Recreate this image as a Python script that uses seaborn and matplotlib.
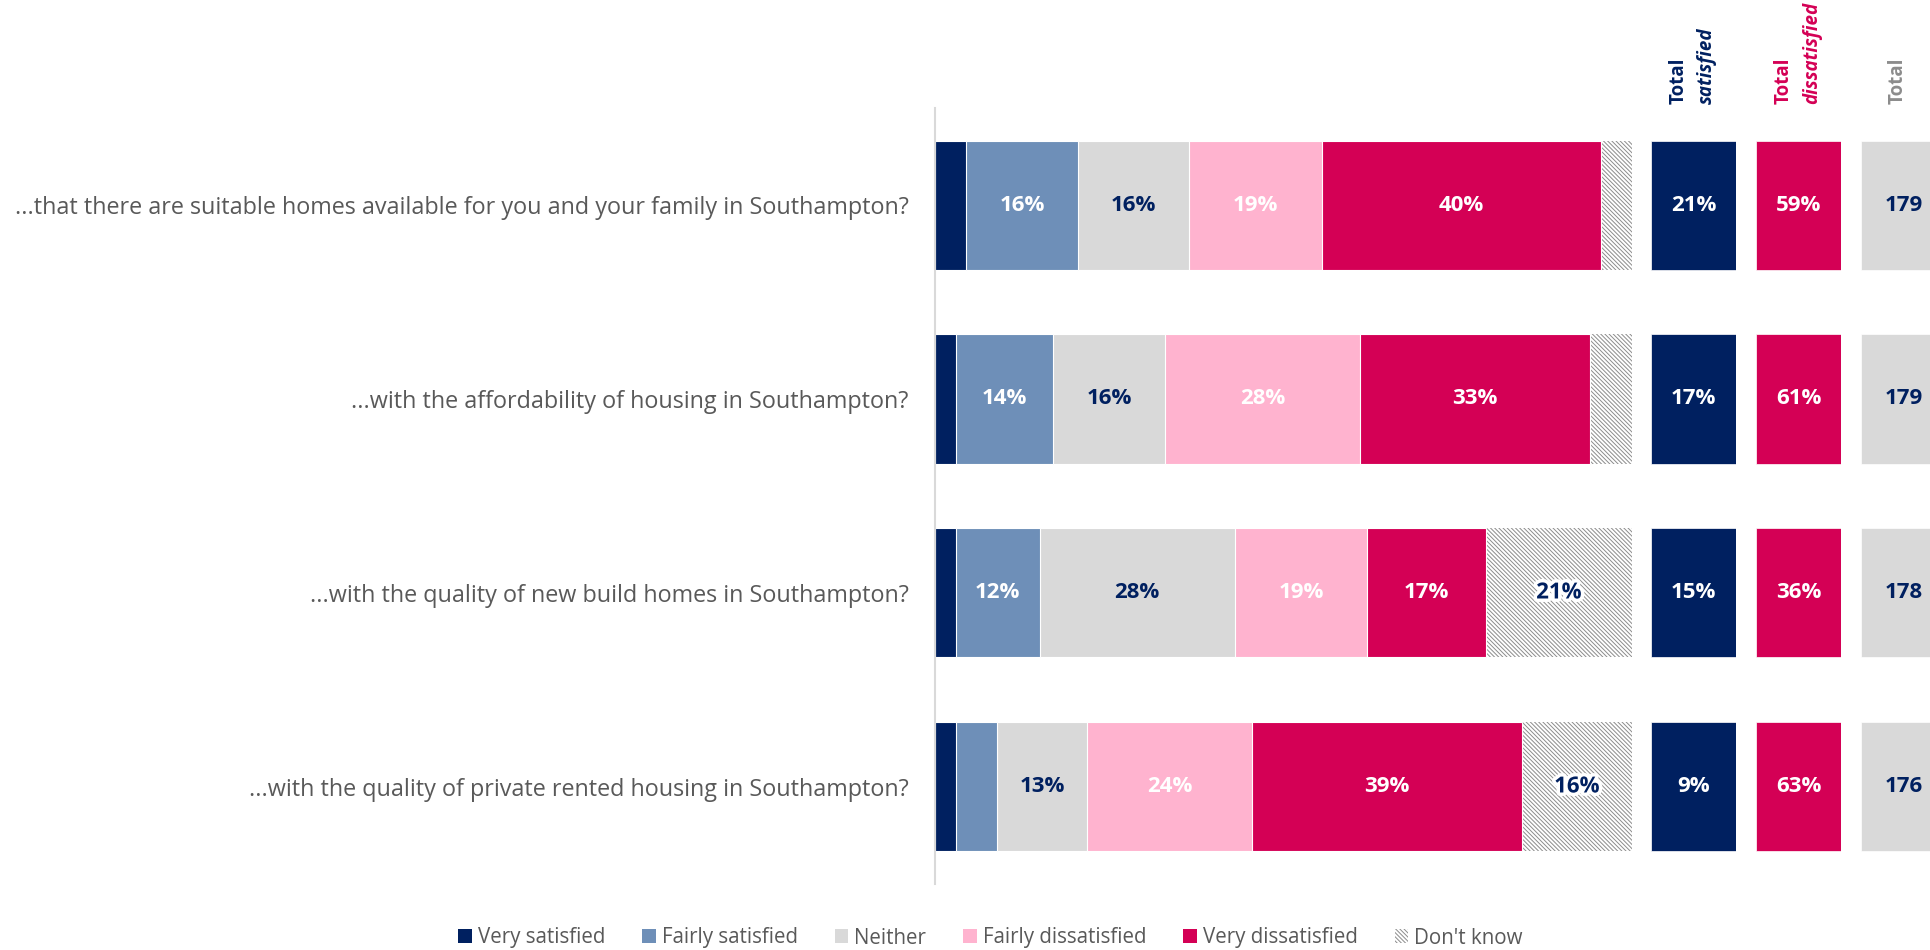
import numpy as np
import pandas as pd
import seaborn as sns
import matplotlib.pyplot as plt
from matplotlib.patches import Patch
import matplotlib.patheffects as pe

# survey questions (bar rows, top to bottom)
questions = [
    "...that there are suitable homes available for you and your family in Southampton?",
    "...with the affordability of housing in Southampton?",
    "...with the quality of new build homes in Southampton?",
    "...with the quality of private rented housing in Southampton?",
]
levels = ["Very satisfied", "Fairly satisfied", "Neither",
          "Fairly dissatisfied", "Very dissatisfied", "Don't know"]

# response shares (%)
very_satisfied = [4.5, 3, 3, 3]
fairly_satisfied = [16, 14, 12, 6]
neither = [16, 16, 28, 13]
fairly_dissatisfied = [19, 28, 19, 24]
very_dissatisfied = [40, 33, 17, 39]
dont_know = [4.5, 6, 21, 16]

# summary columns
total_satisfied = [21, 17, 15, 9]
total_dissatisfied = [59, 61, 36, 63]
total_base = [179, 179, 178, 176]

NAVY = "#002060"
STEEL = "#6E8FB8"
GREY = "#D9D9D9"
PINK = "#FFB3CF"
CRIMSON = "#D40055"
TEXT = "#595959"
colors = [NAVY, STEEL, GREY, PINK, CRIMSON, "white"]
label_colors = ["white", "white", NAVY, "white", "white", NAVY]
HATCH = "\\\\\\\\\\\\\\\\"
HATCH_COLOR = "#8C8C8C"

sns.set_theme(style="white")
plt.rcParams["font.family"] = ["Open Sans", "DejaVu Sans"]
plt.rcParams["hatch.linewidth"] = 0.7

df = pd.DataFrame({
    "question": questions,
    "Very satisfied": very_satisfied,
    "Fairly satisfied": fairly_satisfied,
    "Neither": neither,
    "Fairly dissatisfied": fairly_dissatisfied,
    "Very dissatisfied": very_dissatisfied,
    "Don't know": dont_know,
})
# 100% stacked: normalise each row like the original chart
shares = df[levels].div(df[levels].sum(axis=1), axis=0) * 100
cum = shares.cumsum(axis=1)

fig = plt.figure(figsize=(19.31, 9.5), dpi=100)
bottom, height = 0.0695, 0.8168
ax = fig.add_axes([0.4842, bottom, 0.361, height])
bar_w = 0.665

# layered cumulative bars, widest first
for i in reversed(range(len(levels))):
    lvl = levels[i]
    plot_df = pd.DataFrame({"question": questions, "cum": cum[lvl].values})
    sns.barplot(data=plot_df, x="cum", y="question", orient="h", color=colors[i],
                width=bar_w, errorbar=None, saturation=1, ax=ax)
    for p in ax.containers[-1]:
        p.set_facecolor(colors[i])
        if lvl == "Don't know":
            p.set_hatch(HATCH)
            p.set_edgecolor(HATCH_COLOR)
            p.set_linewidth(0)
        else:
            p.set_edgecolor("white")
            p.set_linewidth(0.8)

# segment labels
for r in range(len(questions)):
    start = 0
    for i, lvl in enumerate(levels):
        v = df.loc[r, lvl]
        w = shares.loc[r, lvl]
        if v >= 10:
            t = ax.text(start + w / 2, r, f"{v:.0f}%", ha="center", va="center",
                        color=label_colors[i], fontsize=16, fontweight="bold")
            if lvl == "Don't know":
                t.set_path_effects([pe.withStroke(linewidth=5, foreground="white")])
        start += w

ax.set_xlim(0, 100)
ax.set_ylim(3.5, -0.5)
ax.set_xlabel("")
ax.set_ylabel("")
ax.set_xticks([])
ax.tick_params(axis="y", length=0, pad=19, labelsize=16.8, labelcolor=TEXT)
for s in ["top", "right", "bottom"]:
    ax.spines[s].set_visible(False)
ax.spines["left"].set_color("#D9D9D9")
ax.spines["left"].set_linewidth(1.5)


def total_column(left, values, fc, tc, fmt, header):
    cax = fig.add_axes([left, bottom, 0.044, height])
    cdf = pd.DataFrame({"question": questions, "v": np.ones(len(values))})
    sns.barplot(data=cdf, x="v", y="question", orient="h", color=fc, width=bar_w,
                errorbar=None, saturation=1, ax=cax)
    for p in cax.containers[-1]:
        p.set_facecolor(fc)
        p.set_edgecolor("white")
        p.set_linewidth(0.5)
    for r, v in enumerate(values):
        cax.text(0.5, r, fmt.format(v), ha="center", va="center", color=tc,
                 fontsize=16, fontweight="bold")
    cax.set_xlim(0, 1)
    cax.set_ylim(3.5, -0.5)
    cax.axis("off")
    for x, txt, style, col in header:
        cax.text(x, 1.005, txt, transform=cax.transAxes, rotation=90, ha="center",
                 va="bottom", fontsize=13.5, fontweight="bold", fontstyle=style, color=col)
    return cax


total_column(0.855, total_satisfied, NAVY, "white", "{}%",
             [(0.33, "Total", "normal", NAVY), (0.66, "satisfied", "italic", NAVY)])
total_column(0.9094, total_dissatisfied, CRIMSON, "white", "{}%",
             [(0.33, "Total", "normal", CRIMSON), (0.66, "dissatisfied", "italic", CRIMSON)])
total_column(0.9637, total_base, GREY, NAVY, "{}",
             [(0.43, "Total", "normal", "#8C8C8C")])

handles = []
for i, lvl in enumerate(levels):
    if lvl == "Don't know":
        handles.append(Patch(facecolor="white", edgecolor=HATCH_COLOR, hatch=HATCH, linewidth=0))
    else:
        handles.append(Patch(facecolor=colors[i], edgecolor="none"))
leg = fig.legend(handles, levels, loc="center", bbox_to_anchor=(0.513, 1 - 938 / 950),
                 ncol=6, frameon=False, fontsize=14.8, handlelength=0.65, handleheight=0.65,
                 handletextpad=0.3, columnspacing=1.8)
for t in leg.get_texts():
    t.set_color(TEXT)

fig.savefig("out.png", dpi=100)
